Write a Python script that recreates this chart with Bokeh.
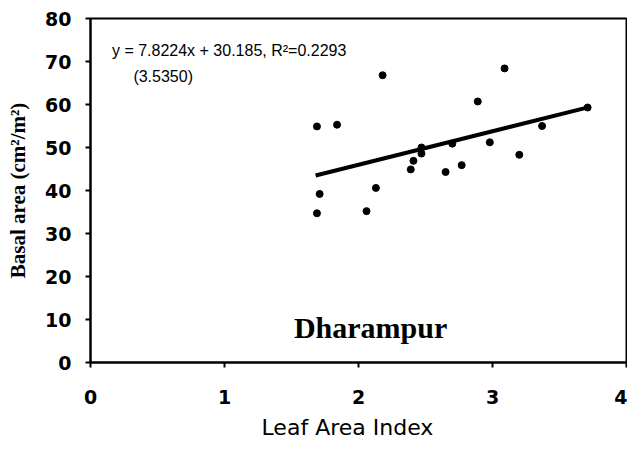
from bokeh.plotting import figure
from bokeh.models import Label, FixedTicker, Title
from bokeh.embed import file_html
from bokeh.resources import INLINE

# data
lai = [1.69, 1.84, 2.18, 3.09, 2.89, 1.71, 1.69, 2.06, 2.13, 2.39,
       2.41, 2.47, 2.47, 2.65, 2.70, 2.77, 2.98, 3.20, 3.37, 3.71]
basal = [54.9, 55.3, 66.8, 68.4, 60.7, 39.2, 34.7, 35.2, 40.6, 44.9,
         46.9, 48.6, 50.0, 44.3, 50.9, 45.9, 51.2, 48.3, 55.0, 59.3]
fit_x = [1.68, 3.72]
fit_y = [43.5, 59.4]
x_ticks = [0, 1, 2, 3, 4]
y_ticks = [0, 10, 20, 30, 40, 50, 60, 70, 80]
equation = "y = 7.8224x + 30.185, R\u00b2=0.2293"
se_text = "(3.5350)"
site = "Dharampur"
x_title = "Leaf Area Index"
y_title = "Basal area (cm\u00b2/m\u00b2)"

p = figure(width=627, height=445, x_range=(0, 4), y_range=(0, 80),
           output_backend="svg", toolbar_location=None,
           min_border_left=90, min_border_right=1, min_border_top=18,
           min_border_bottom=70)
p.xgrid.visible = False
p.ygrid.visible = False
p.outline_line_color = "black"
p.outline_line_width = 2
p.background_fill_color = "white"
p.border_fill_color = "white"

for ax in (p.xaxis[0], p.yaxis[0]):
    ax.axis_line_width = 2
    ax.axis_line_color = "black"
    ax.major_tick_line_width = 2
    ax.major_tick_line_color = "black"
    ax.major_tick_out = 5
    ax.major_tick_in = 0
    ax.minor_tick_out = 0
    ax.minor_tick_in = 0
    ax.major_label_text_font = "DejaVu Sans"
    ax.major_label_text_font_size = "19px"
    ax.major_label_text_font_style = "bold"
    ax.major_label_text_color = "black"

p.xaxis.ticker = FixedTicker(ticks=x_ticks)
p.yaxis.ticker = FixedTicker(ticks=y_ticks)
p.xaxis.major_label_standoff = 22
p.yaxis.major_label_standoff = 14

p.yaxis.axis_label = y_title
p.yaxis.axis_label_text_font = "Liberation Serif"
p.yaxis.axis_label_text_font_size = "21px"
p.yaxis.axis_label_text_font_style = "bold"
p.yaxis.axis_label_text_color = "black"
p.yaxis.axis_label_standoff = 12

p.line(fit_x, fit_y, line_color="black", line_width=4)
p.scatter(lai, basal, size=7, color="black")

p.add_layout(Label(x=0.16, y=72.6, text=equation, text_font="Liberation Sans",
                   text_font_size="16px", text_color="black",
                   text_baseline="alphabetic", text_align="left"))
p.add_layout(Label(x=0.32, y=66.6, text=se_text, text_font="Liberation Sans",
                   text_font_size="16px", text_color="black",
                   text_baseline="alphabetic", text_align="left"))
p.add_layout(Label(x=2.09, y=8.1, text=site, text_font="Liberation Serif",
                   text_font_size="30px", text_font_style="bold", text_color="black",
                   text_baseline="alphabetic", text_align="center"))

xt = Title(text=x_title, align="left", offset=171, text_font="DejaVu Sans",
           text_font_size="22px", text_font_style="normal", text_color="black",
           standoff=12)
p.add_layout(xt, "below")

open("out.html", "w").write(file_html(p, INLINE))
